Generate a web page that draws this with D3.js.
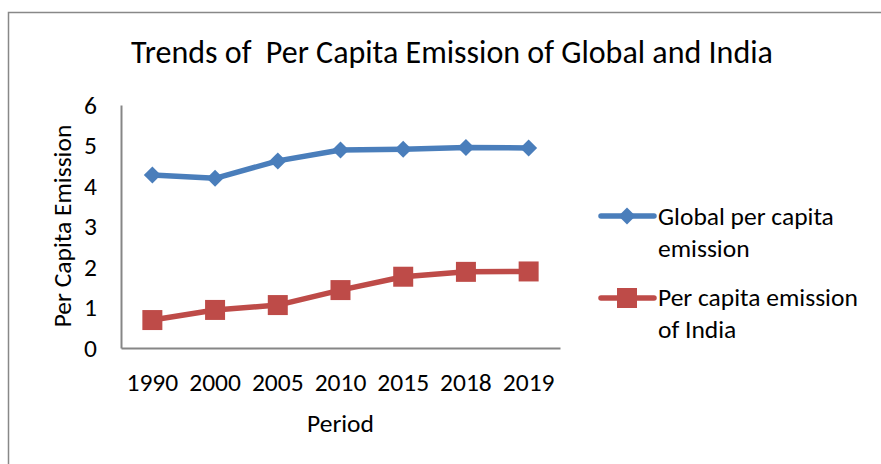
<!DOCTYPE html>
<html><head><meta charset="utf-8">
<script src="https://cdn.jsdelivr.net/npm/d3@7"></script>
<style>body{margin:0;background:#fff;} text{font-family:Carlito,Lato,"Open Sans",sans-serif;fill:#000;}</style>
</head><body><svg id="c" width="881" height="464"></svg>
<script>
const periods = ["1990","2000","2005","2010","2015","2018","2019"];
const globalValues = [4.27, 4.19, 4.62, 4.89, 4.91, 4.95, 4.94];
const indiaValues = [0.69, 0.94, 1.06, 1.43, 1.76, 1.88, 1.89];
const yTicks = [0,1,2,3,4,5,6];
const seriesNames = [["Global per capita","emission"],["Per capita emission","of India"]];

const svg = d3.select("#c");
svg.append("rect").attr("x",8.5).attr("y",12.5).attr("width",900).attr("height",500)
  .attr("fill","#fff").attr("stroke","#888").attr("stroke-width",1.5);

const L=121, R=560, T=105, B=348;
const FS = "25.5px";
const x = d3.scaleBand().domain(periods).range([L,R]);
const y = d3.scaleLinear().domain([0,6]).range([B,T]);

svg.append("text").attr("x",452).attr("y",63).attr("text-anchor","middle")
  .style("font-size","32px").attr("xml:space","preserve").text("Trends of  Per Capita Emission of Global and India");

const yAxis = svg.append("g").attr("transform",`translate(${L},0)`)
  .call(d3.axisLeft(y).tickValues(yTicks).tickSize(0).tickPadding(24).tickFormat(d3.format("d")));
yAxis.select(".domain").attr("stroke","#868686").attr("stroke-width",2);
yAxis.selectAll("text").style("font-size",FS).attr("dy","0.32em");

const xAxis = svg.append("g").attr("transform",`translate(0,${B})`)
  .call(d3.axisBottom(x).tickSize(0));
xAxis.select(".domain").attr("stroke","#868686").attr("stroke-width",2);
xAxis.selectAll("text").style("font-size",FS).attr("y",43).attr("dy",0);

svg.append("text").attr("x",(L+R)/2).attr("y",432).attr("text-anchor","middle").style("font-size",FS).text("Period");
svg.append("text").attr("transform","translate(71,226) rotate(-90)").attr("text-anchor","middle").style("font-size",FS).text("Per Capita Emission");

const cx = d => x(d)+x.bandwidth()/2;
const line = d3.line().x((d,i)=>cx(periods[i])).y(d=>y(d));
const blue="#4a7ebb", red="#be4b48";

svg.append("path").datum(globalValues).attr("d",line).attr("fill","none").attr("stroke",blue).attr("stroke-width",5.5).attr("stroke-linejoin","round");
svg.append("path").datum(indiaValues).attr("d",line).attr("fill","none").attr("stroke",red).attr("stroke-width",5.5).attr("stroke-linejoin","round");

const diamond = d3.symbol().type(d3.symbolSquare).size(145);
svg.selectAll(".gm").data(globalValues).enter().append("path")
  .attr("d",diamond).attr("fill",blue)
  .attr("transform",(d,i)=>`translate(${cx(periods[i])},${y(d)}) rotate(45)`);
const sq = d3.symbol().type(d3.symbolSquare).size(400);
svg.selectAll(".im").data(indiaValues).enter().append("path")
  .attr("d",sq).attr("fill",red)
  .attr("transform",(d,i)=>`translate(${cx(periods[i])},${y(d)})`);

// legend
const lg = [{c:blue,y:216,sym:"d",t:seriesNames[0],ty:225},{c:red,y:298,sym:"s",t:seriesNames[1],ty:306}];
lg.forEach(o=>{
  svg.append("line").attr("x1",601).attr("x2",654).attr("y1",o.y).attr("y2",o.y).attr("stroke",o.c).attr("stroke-width",5.5).attr("stroke-linecap","round");
  if(o.sym==="d") svg.append("path").attr("d",diamond).attr("fill",o.c).attr("transform",`translate(627,${o.y}) rotate(45)`);
  else svg.append("path").attr("d",sq).attr("fill",o.c).attr("transform",`translate(627,${o.y})`);
  const t = svg.append("text").attr("x",658).attr("y",o.ty).style("font-size",FS);
  o.t.forEach((s,i)=>t.append("tspan").attr("x",658).attr("dy",i?32:0).text(s));
});
</script></body></html>
